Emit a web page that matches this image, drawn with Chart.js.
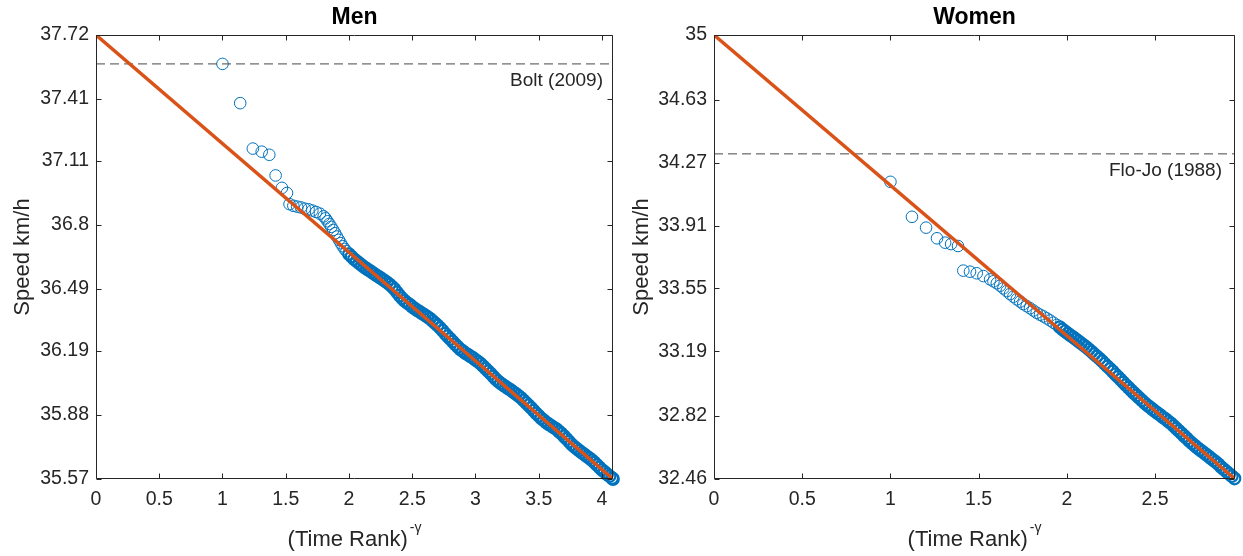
<!DOCTYPE html>
<html>
<head>
<meta charset="utf-8">
<script src="https://cdn.jsdelivr.net/npm/chart.js@4.4.1/dist/chart.umd.min.js"></script>
<style>
  html, body { margin: 0; padding: 0; background: #ffffff; }
  #wrap { position: relative; width: 1243px; height: 556px; overflow: hidden; }
  .panel { position: absolute; top: 0; height: 556px; }
</style>
</head>
<body>
<div id="wrap">
  <div class="panel" style="left:0;width:621px"><canvas id="men" width="621" height="556"></canvas></div>
  <div class="panel" style="left:621px;width:622px"><canvas id="women" width="622" height="556"></canvas></div>
</div>
<script>
// ---- Men: speed (km/h) against (time rank)^-gamma ----
const menRankX = [
  1.00, 1.14, 1.24, 1.31, 1.37, 1.42, 1.47, 1.51,
  1.53, 1.56, 1.59, 1.62, 1.65, 1.68, 1.71, 1.74, 1.77, 1.80,
  1.815, 1.83, 1.845, 1.86, 1.875, 1.89, 1.905, 1.92, 1.935, 1.95, 1.965, 1.98,
  2.00, 2.02, 2.04, 2.06, 2.08, 2.10, 2.12, 2.14, 2.16, 2.18,
  2.20, 2.22, 2.24, 2.26, 2.28, 2.30, 2.32, 2.34, 2.36, 2.38,
  2.40, 2.42, 2.44, 2.46, 2.48, 2.50, 2.52, 2.54, 2.56, 2.58,
  2.60, 2.62, 2.64, 2.66, 2.68, 2.70, 2.72, 2.74, 2.76, 2.78,
  2.80, 2.82, 2.84, 2.86, 2.88, 2.90, 2.92, 2.94, 2.96, 2.98,
  3.00, 3.02, 3.04, 3.06, 3.08, 3.10, 3.12, 3.14, 3.16, 3.18,
  3.20, 3.22, 3.24, 3.26, 3.28, 3.30, 3.32, 3.34, 3.36, 3.38,
  3.40, 3.42, 3.44, 3.46, 3.48, 3.50, 3.52, 3.54, 3.56, 3.58,
  3.60, 3.62, 3.64, 3.66, 3.68, 3.70, 3.72, 3.74, 3.76, 3.78,
  3.80, 3.82, 3.84, 3.86, 3.88, 3.90, 3.92, 3.94, 3.96, 3.98,
  4.00, 4.02, 4.04, 4.06, 4.08, 4.087
];
const menSpeed = [
  37.580, 37.390, 37.170, 37.155, 37.140, 37.040, 36.980, 36.955,
  36.901, 36.893, 36.889, 36.885, 36.879, 36.876, 36.870, 36.863, 36.855, 36.842,
  36.832, 36.818, 36.805, 36.791, 36.776, 36.760, 36.744, 36.728, 36.712, 36.697, 36.684, 36.673,
  36.659, 36.647, 36.635, 36.625, 36.615, 36.606, 36.596, 36.588, 36.580, 36.572,
  36.563, 36.555, 36.547, 36.539, 36.531, 36.522, 36.512, 36.501, 36.489, 36.474,
  36.458, 36.445, 36.432, 36.423, 36.414, 36.404, 36.395, 36.387, 36.379, 36.371,
  36.363, 36.355, 36.347, 36.336, 36.325, 36.314, 36.302, 36.288, 36.274, 36.261,
  36.248, 36.235, 36.222, 36.210, 36.198, 36.189, 36.180, 36.172, 36.164, 36.156,
  36.147, 36.138, 36.129, 36.117, 36.105, 36.092, 36.080, 36.067, 36.054, 36.043,
  36.033, 36.025, 36.016, 36.008, 36.000, 35.991, 35.982, 35.972, 35.963, 35.951,
  35.939, 35.927, 35.914, 35.901, 35.888, 35.876, 35.864, 35.854, 35.843, 35.835,
  35.827, 35.819, 35.811, 35.800, 35.790, 35.777, 35.764, 35.751, 35.738, 35.727,
  35.717, 35.707, 35.698, 35.689, 35.680, 35.671, 35.661, 35.650, 35.638, 35.626,
  35.614, 35.604, 35.593, 35.584, 35.574, 35.570
];
const menFitX = [0, 4.087];
const menFitSpeed = [37.72, 35.57];
const menRecordSpeed = 37.58;
const menRecordLabel = 'Bolt (2009)';
const menXTicks = [0, 0.5, 1, 1.5, 2, 2.5, 3, 3.5, 4];
const menYTicks = ['35.57', '35.88', '36.19', '36.49', '36.8', '37.11', '37.41', '37.72'];

// ---- Women ----
const womenRankX = [
  1.000, 1.122, 1.202, 1.264, 1.310, 1.344, 1.383,
  1.413, 1.451, 1.489, 1.527, 1.565, 1.584, 1.603, 1.622, 1.640, 1.659,
  1.678, 1.697, 1.716, 1.735, 1.753, 1.772, 1.791, 1.810, 1.829, 1.848,
  1.867, 1.886, 1.905, 1.924, 1.943,
  1.960, 1.975, 1.990, 2.005, 2.020, 2.035, 2.050, 2.065, 2.080, 2.095,
  2.110, 2.125, 2.140, 2.155, 2.170, 2.185, 2.200, 2.215, 2.230, 2.245,
  2.260, 2.275, 2.290, 2.305, 2.320, 2.335, 2.350, 2.365, 2.380, 2.395,
  2.410, 2.425, 2.440, 2.455, 2.470, 2.485, 2.500, 2.515, 2.530, 2.545,
  2.560, 2.575, 2.590, 2.605, 2.620, 2.635, 2.650, 2.665, 2.680, 2.695,
  2.710, 2.725, 2.740, 2.755, 2.770, 2.785, 2.800, 2.815, 2.830, 2.845,
  2.860, 2.875, 2.890, 2.905, 2.920, 2.935, 2.950
];
const womenSpeed = [
  34.160, 33.960, 33.898, 33.837, 33.812, 33.804, 33.793,
  33.652, 33.646, 33.637, 33.621, 33.602, 33.591, 33.580, 33.566, 33.551, 33.535,
  33.518, 33.503, 33.488, 33.475, 33.461, 33.449, 33.437, 33.424, 33.411, 33.400,
  33.390, 33.379, 33.367, 33.354, 33.341,
  33.329, 33.316, 33.305, 33.293, 33.282, 33.271, 33.260, 33.249, 33.237, 33.226,
  33.214, 33.201, 33.188, 33.175, 33.161, 33.148, 33.134, 33.119, 33.104, 33.090,
  33.075, 33.059, 33.044, 33.028, 33.013, 32.997, 32.982, 32.967, 32.952, 32.938,
  32.924, 32.910, 32.896, 32.883, 32.871, 32.859, 32.847, 32.836, 32.825, 32.813,
  32.802, 32.790, 32.778, 32.764, 32.749, 32.735, 32.721, 32.706, 32.692, 32.677,
  32.664, 32.651, 32.638, 32.626, 32.615, 32.604, 32.592, 32.580, 32.568, 32.556,
  32.543, 32.528, 32.515, 32.502, 32.489, 32.476, 32.463
];
const womenFitX = [0, 2.953];
const womenFitSpeed = [35, 32.46];
const womenRecordSpeed = 34.32;
const womenRecordLabel = 'Flo-Jo (1988)';
const womenXTicks = [0, 0.5, 1, 1.5, 2, 2.5];
const womenYTicks = ['32.46', '32.82', '33.19', '33.55', '33.91', '34.27', '34.63', '35'];

// ---- styling ----
const FONT = "'Liberation Sans', Arial, Helvetica, sans-serif";
const INK = '#262626';
const BLUE = '#0072BD';
const ORANGE = '#D95319';
const GREY = '#474747';

function toPoints(xs, ys) {
  return xs.map((x, i) => ({ x: x, y: ys[i] }));
}

// Box around the axes, inward tick marks, record label and the x-axis title
const framePlugin = {
  id: 'frame',
  afterDraw(chart, args, o) {
    const { ctx, chartArea: a, scales: { x, y } } = chart;
    const L = Math.round(a.left) + 0.5, R = Math.round(a.right) - 0.5;
    const T = Math.round(a.top) + 0.5, B = Math.round(a.bottom) - 0.5;
    const tick = 5;
    ctx.save();
    ctx.strokeStyle = INK;
    ctx.lineWidth = 1;
    ctx.beginPath();
    ctx.rect(L, T, R - L, B - T);
    x.ticks.forEach(t => {
      const px = Math.round(x.getPixelForValue(t.value)) + 0.5;
      ctx.moveTo(px, B); ctx.lineTo(px, B - tick);
      ctx.moveTo(px, T); ctx.lineTo(px, T + tick);
    });
    y.ticks.forEach(t => {
      const py = Math.round(y.getPixelForValue(t.value)) + 0.5;
      ctx.moveTo(L, py); ctx.lineTo(L + tick, py);
      ctx.moveTo(R, py); ctx.lineTo(R - tick, py);
    });
    ctx.stroke();

    // record label under the dashed line
    const yy = y.getPixelForValue(o.record);
    ctx.fillStyle = INK;
    ctx.font = '19px ' + FONT;
    ctx.textAlign = 'right';
    ctx.textBaseline = 'middle';
    ctx.fillText(o.recordLabel, a.right - o.labelInset, yy + 17);

    // x-axis title with superscript exponent
    const main = '(Time Rank)';
    const sup = '-\u03B3';
    ctx.font = '22px ' + FONT;
    const w1 = ctx.measureText(main).width;
    ctx.font = '14px ' + FONT;
    const w2 = ctx.measureText(sup).width;
    const sx = (a.left + a.right) / 2 - (w1 + 2 + w2) / 2;
    const base = a.bottom + 67;
    ctx.textAlign = 'left';
    ctx.textBaseline = 'alphabetic';
    ctx.font = '22px ' + FONT;
    ctx.fillText(main, sx, base);
    ctx.font = '14px ' + FONT;
    ctx.fillText(sup, sx + w1 + 2, base - 14);
    ctx.restore();
  }
};

function makePanel(id, p) {
  const xMax = p.fitX[p.fitX.length - 1];
  const yVals = p.yTicks.map(Number);
  const yMin = Math.min.apply(null, yVals);
  const yMax = Math.max.apply(null, yVals);
  const tickFont = { family: FONT, size: 19.5 };
  return new Chart(document.getElementById(id), {
    type: 'scatter',
    data: {
      datasets: [
        {
          label: 'fit',
          data: toPoints(p.fitX, p.fitY),
          showLine: true,
          borderColor: ORANGE,
          borderWidth: 3.5,
          pointRadius: 0,
          order: 0
        },
        {
          label: 'record',
          data: toPoints([0, xMax], [p.record, p.record]),
          showLine: true,
          borderColor: GREY,
          borderWidth: 1,
          borderDash: [9, 5],
          pointRadius: 0,
          order: 1
        },
        {
          label: 'athletes',
          data: toPoints(p.x, p.y),
          showLine: false,
          pointStyle: 'circle',
          pointRadius: 5.8,
          // overlapping markers in the crowded tail merge into a solid band
          pointBorderWidth: c => (c.raw && c.raw.x >= p.denseFrom ? 2.2 : 1),
          borderColor: BLUE,
          pointBorderColor: BLUE,
          backgroundColor: 'rgba(0,0,0,0)',
          pointBackgroundColor: 'rgba(0,0,0,0)',
          clip: false,
          order: 2
        }
      ]
    },
    options: {
      responsive: false,
      animation: false,
      events: [],
      layout: { padding: { left: 0, right: p.padRight, top: 0, bottom: 0 } },
      plugins: {
        legend: { display: false },
        tooltip: { enabled: false },
        title: {
          display: true,
          text: p.title,
          fullSize: false,
          color: '#000000',
          font: { family: FONT, size: 23, weight: 'bold' },
          padding: { top: 4.2, bottom: 3.2 }
        },
        frame: { record: p.record, recordLabel: p.recordLabel, labelInset: p.labelInset }
      },
      scales: {
        x: {
          type: 'linear',
          min: 0,
          max: xMax,
          afterBuildTicks: s => { s.ticks = p.xTicks.map(v => ({ value: v })); },
          afterFit: s => { s.height = 77; },
          ticks: {
            callback: v => String(v),
            font: tickFont,
            color: INK,
            padding: 9,
            maxRotation: 0,
            autoSkip: false
          },
          grid: { display: false, drawTicks: false },
          border: { display: false }
        },
        y: {
          type: 'linear',
          min: yMin,
          max: yMax,
          afterBuildTicks: s => { s.ticks = yVals.map(v => ({ value: v })); },
          afterFit: s => { s.width = p.yWidth; },
          ticks: {
            callback: v => p.yTicks[yVals.indexOf(v)],
            font: tickFont,
            color: INK,
            padding: 7,
            autoSkip: false
          },
          grid: { display: false, drawTicks: false },
          border: { display: false },
          title: {
            display: true,
            text: 'Speed km/h',
            color: INK,
            font: { family: FONT, size: 22 },
            padding: { top: p.yTitlePad, bottom: 0 }
          }
        }
      }
    },
    plugins: [framePlugin]
  });
}

makePanel('men', {
  title: 'Men',
  x: menRankX, y: menSpeed,
  fitX: menFitX, fitY: menFitSpeed,
  record: menRecordSpeed, recordLabel: menRecordLabel,
  xTicks: menXTicks, yTicks: menYTicks,
  yWidth: 96, padRight: 8, yTitlePad: 10, labelInset: 10, denseFrom: 2.0
});

makePanel('women', {
  title: 'Women',
  x: womenRankX, y: womenSpeed,
  fitX: womenFitX, fitY: womenFitSpeed,
  record: womenRecordSpeed, recordLabel: womenRecordLabel,
  xTicks: womenXTicks, yTicks: womenYTicks,
  yWidth: 93, padRight: 8, yTitlePad: 8, labelInset: 13, denseFrom: 1.95
});
</script>
</body>
</html>
